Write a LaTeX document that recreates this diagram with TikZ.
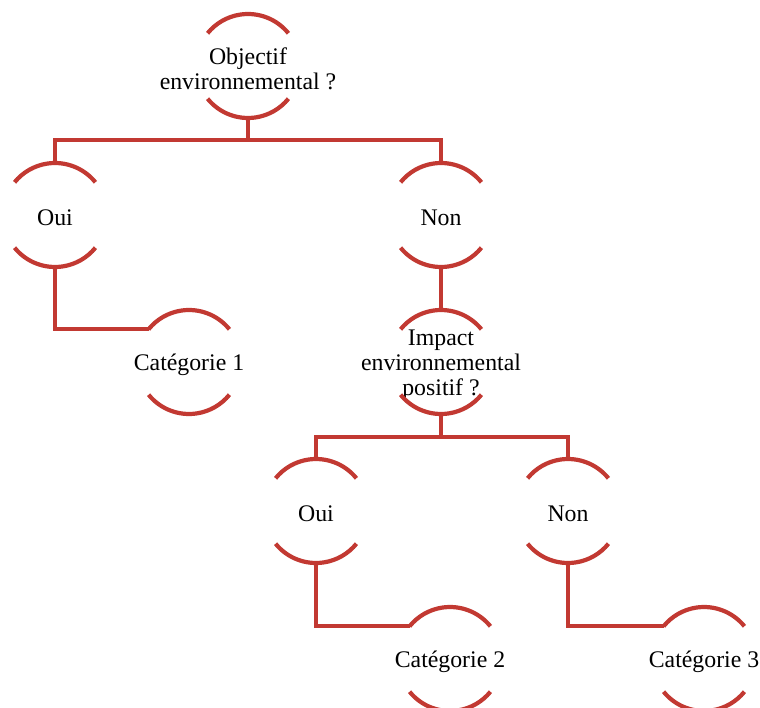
\documentclass[tikz,border=0pt]{standalone}
\usepackage{fontspec}
\setmainfont{Liberation Serif}
\usepackage{tikz}
\definecolor{treered}{RGB}{194,57,50}
\tikzstyle{ring} = [circle, minimum size=104pt, inner sep=0pt, outer sep=0pt]
\tikzstyle{lbl} = [align=center, inner sep=0pt, yshift=-3pt, font=\fontsize{23.8}{25}\selectfont]
\tikzstyle{arcline} = [line width=4.2pt, draw=treered]
\tikzstyle{link} = [line width=4.2pt, draw=treered]

\begin{document}
\begin{tikzpicture}[x=1pt,y=1pt]
\useasboundingbox (0,0) rectangle (760,-708);
\node (root) [ring, label={[lbl]center:{Objectif\\environnemental ?}}] at (248,-66) {};
\node (oui) [ring, label={[lbl]center:Oui}] at (55,-215) {};
\node (non) [ring, label={[lbl]center:Non}] at (441,-215) {};
\node (cat1) [ring, label={[lbl]center:Catégorie 1}] at (189,-362) {};
\node (impact) [ring, label={[lbl]center:{Impact\\environnemental\\positif ?}}] at (441,-362) {};
\node (oui2) [ring, label={[lbl]center:Oui}] at (316,-511) {};
\node (non2) [ring, label={[lbl]center:Non}] at (568,-511) {};
\node (cat2) [ring, label={[lbl]center:Catégorie 2}] at (450,-659) {};
\node (cat3) [ring, label={[lbl]center:Catégorie 3}] at (704,-659) {};

% open circles: top and bottom arcs only
\foreach \n in {root,oui,non,cat1,impact,oui2,non2,cat2,cat3} {
  \draw [arcline] (\n.39) arc[start angle=39, end angle=141, radius=52pt];
  \draw [arcline] (\n.219) arc[start angle=219, end angle=321, radius=52pt];
}

\draw [link] (root.south) -- ++(0,-22) -| (oui.north);
\draw [link] (root.south) -- ++(0,-22) -| (non.north);
\draw [link] (oui.south) |- (cat1.141);
\draw [link] (non.south) -- (impact.north);
\draw [link] (impact.south) -- ++(0,-23) -| (oui2.north);
\draw [link] (impact.south) -- ++(0,-23) -| (non2.north);
\draw [link] (oui2.south) |- (cat2.141);
\draw [link] (non2.south) |- (cat3.141);

\end{tikzpicture}
\end{document}
